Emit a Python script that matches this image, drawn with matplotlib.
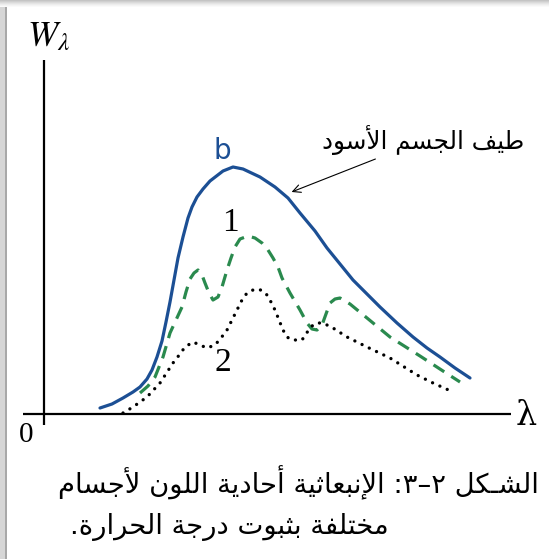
import matplotlib
matplotlib.use('Agg')
import matplotlib.pyplot as plt
from matplotlib.patches import Rectangle

plt.rcParams['mathtext.fontset'] = 'stix'

# curve values (lambda, W_lambda in arbitrary units)
blue_x = [0.56, 0.68, 0.79, 0.89, 0.96, 1.03, 1.08, 1.13, 1.18, 1.22, 1.26, 1.30, 1.34, 1.39, 1.44, 1.48, 1.53, 1.59, 1.66,
          1.79, 1.89, 1.99, 2.16, 2.31, 2.44, 2.56, 2.71, 2.83, 2.96, 3.09, 3.23, 3.36, 3.53, 3.69, 3.83, 3.96, 4.11, 4.26]
blue_y = [0.06, 0.10, 0.16, 0.22, 0.27, 0.35, 0.44, 0.57, 0.73, 0.92, 1.12, 1.34, 1.56, 1.77, 1.96, 2.07, 2.17, 2.25, 2.33,
          2.43, 2.47, 2.45, 2.37, 2.27, 2.16, 2.01, 1.83, 1.66, 1.50, 1.34, 1.20, 1.07, 0.91, 0.77, 0.66, 0.57, 0.46, 0.36]

green_x = [0.96, 1.04, 1.11, 1.19, 1.26, 1.32, 1.38, 1.42, 1.46, 1.50, 1.54, 1.58, 1.61, 1.65, 1.69, 1.74, 1.78, 1.83, 1.87,
           1.91, 1.96, 2.04, 2.11, 2.18, 2.24, 2.29, 2.34, 2.38, 2.46, 2.56, 2.63, 2.68, 2.73, 2.78, 2.82, 2.86, 2.91, 2.96,
           3.06, 3.23, 3.46, 3.76, 3.99, 4.16]
green_y = [0.21, 0.28, 0.37, 0.57, 0.81, 0.94, 1.07, 1.22, 1.35, 1.41, 1.44, 1.39, 1.31, 1.21, 1.14, 1.17, 1.27, 1.44, 1.56,
           1.67, 1.75, 1.78, 1.76, 1.71, 1.64, 1.56, 1.47, 1.36, 1.21, 1.04, 0.91, 0.85, 0.84, 0.89, 1.00, 1.11, 1.15, 1.16,
           1.10, 0.96, 0.77, 0.58, 0.43, 0.32]

black_x = [0.79, 0.89, 1.03, 1.16, 1.29, 1.36, 1.41, 1.49, 1.56, 1.63, 1.71, 1.77, 1.83, 1.88, 1.93, 1.98, 2.03, 2.09, 2.14,
           2.19, 2.23, 2.27, 2.31, 2.35, 2.39, 2.43, 2.48, 2.58, 2.64, 2.69, 2.73, 2.79, 2.89, 3.03, 3.23, 3.46, 3.73, 3.89, 4.09]
black_y = [0.01, 0.07, 0.17, 0.31, 0.51, 0.60, 0.67, 0.72, 0.69, 0.66, 0.69, 0.76, 0.84, 0.94, 1.04, 1.14, 1.21, 1.24, 1.25,
           1.23, 1.19, 1.12, 1.04, 0.94, 0.84, 0.77, 0.74, 0.74, 0.83, 0.89, 0.91, 0.91, 0.86, 0.77, 0.67, 0.56, 0.39, 0.31, 0.22]

label_black_body = 'طيف الجسم الأسود'
caption_1 = 'الشـكل ٢–٣: الإنبعاثية أحادية اللون لأجسام'
caption_2 = 'مختلفة بثبوت درجة الحرارة.'

# matplotlib does no arabic shaping, so pick presentation forms by hand
FORMS = {
    'ا': (0xFE8D, 2), 'أ': (0xFE83, 2), 'إ': (0xFE87, 2), 'ب': (0xFE8F, 4), 'ة': (0xFE93, 2),
    'ت': (0xFE95, 4), 'ث': (0xFE99, 4), 'ج': (0xFE9D, 4), 'ح': (0xFEA1, 4), 'خ': (0xFEA5, 4),
    'د': (0xFEA9, 2), 'ر': (0xFEAD, 2), 'س': (0xFEB1, 4), 'ش': (0xFEB5, 4), 'ط': (0xFEC1, 4),
    'ع': (0xFEC9, 4), 'ف': (0xFED1, 4), 'ك': (0xFED9, 4), 'ل': (0xFEDD, 4), 'م': (0xFEE1, 4),
    'ن': (0xFEE5, 4), 'ه': (0xFEE9, 4), 'و': (0xFEED, 2), 'ي': (0xFEF1, 4),
}
LAM_ALEF = {'ا': 0xFEFB, 'أ': 0xFEF7, 'إ': 0xFEF9}
TATWEEL = 'ـ'


def joins_forward(c):
    return c == TATWEEL or (c in FORMS and FORMS[c][1] == 4)


def is_arabic(c):
    return c == TATWEEL or c in FORMS


def shape(text):
    out = []
    prev = ''
    i = 0
    while i < len(text):
        c = text[i]
        nxt = text[i + 1] if i + 1 < len(text) else ''
        if c == 'ل' and nxt in LAM_ALEF:
            out.append(chr(LAM_ALEF[nxt] + (1 if joins_forward(prev) else 0)))
            prev = nxt
            i += 2
            continue
        if c in FORMS:
            base, n = FORMS[c]
            p = joins_forward(prev)
            q = n == 4 and is_arabic(nxt)
            if p and q:
                f = 3
            elif p:
                f = 1
            elif q:
                f = 2
            else:
                f = 0
            out.append(chr(base + f))
        else:
            out.append(c)
        prev = c
        i += 1
    return ''.join(reversed(out))


fig = plt.figure(figsize=(5.49, 5.59), dpi=100)
ax = fig.add_axes([0, 0, 1, 1])
ax.set_xlim(-0.44, 5.05)
ax.set_ylim(-1.45, 4.14)
ax.axis('off')

# grey frame of the scanned figure
for k, shade in enumerate(['#c4c4c4', '#cfcfcf', '#dadada', '#e4e4e4', '#ededed', '#f4f4f4', '#fafafa']):
    fig.add_artist(Rectangle((0, 1 - (k + 1) / 559), 1, 1 / 559, transform=fig.transFigure, color=shade, lw=0))
fig.add_artist(Rectangle((0, 0), 6 / 549, 1 - 7 / 559, transform=fig.transFigure, color='#d6d6d6', lw=0))
fig.add_artist(Rectangle((5 / 549, 0), 1.5 / 549, 1 - 7 / 559, transform=fig.transFigure, color='#a8a8a8', lw=0))

# axes
ax.vlines(0, -0.11, 3.54, color='black', lw=1.6)
ax.hlines(0, -0.21, 4.67, color='black', lw=1.6)

ax.plot(blue_x, blue_y, color='#1c4f94', lw=2.3, solid_capstyle='round')
ax.plot(green_x, green_y, color='#2a8a4e', lw=2.3, linestyle=(0, (4, 2.6)))
ax.plot(black_x, black_y, color='black', lw=2.4, linestyle=(0, (0.01, 2.4)), dash_capstyle='round')

ax.text(0.04, 3.78, r'$W_\lambda$', fontsize=26, ha='center', va='center')
ax.text(4.82, -0.02, 'λ', fontsize=24, family='DejaVu Serif', ha='center', va='center')
ax.text(-0.18, -0.21, '0', fontsize=21, family='Liberation Serif', ha='center', va='center')
ax.text(1.78, 2.63, 'b', fontsize=20, family='DejaVu Sans', color='#1c4f94', ha='center', va='center')
ax.text(1.86, 1.91, '1', fontsize=24, family='Liberation Serif', ha='center', va='center')
ax.text(1.79, 0.51, '2', fontsize=24, family='Liberation Serif', ha='center', va='center')

ax.text(3.79, 2.74, shape(label_black_body), fontsize=17.7, family='DejaVu Sans', ha='center', va='center')
ax.annotate('', xy=(2.45, 2.21), xytext=(3.34, 2.56),
            arrowprops=dict(arrowstyle='->', lw=0.8, color='black', mutation_scale=14))

ax.text(4.95, -0.69, shape(caption_1), fontsize=19.7, family='DejaVu Sans', ha='right', va='center')
ax.text(3.45, -1.13, shape(caption_2), fontsize=19.7, family='DejaVu Sans', ha='right', va='center')

fig.savefig('out.png', dpi=100)
